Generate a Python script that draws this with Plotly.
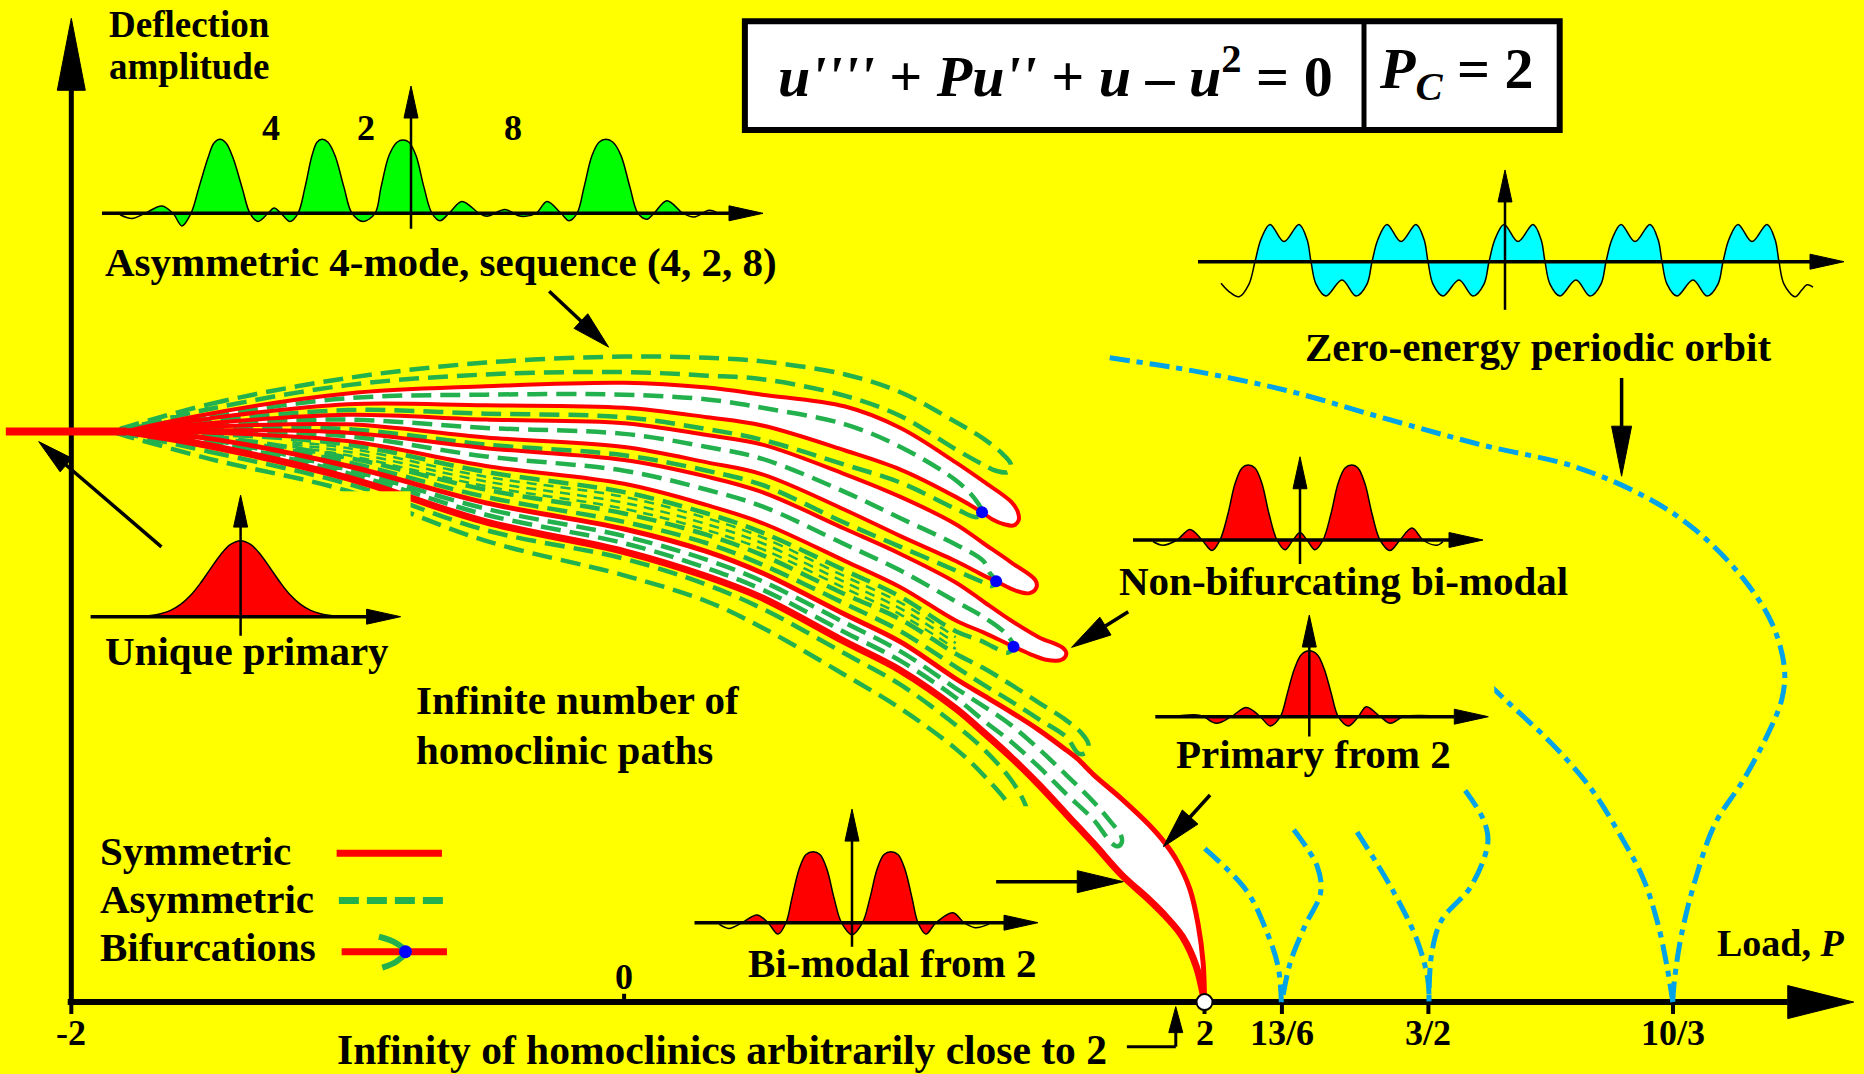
import math
import plotly.graph_objects as go

W, H = 1864, 1074
XR = (-2.258, 4.486)     # load axis (schematic units)
YR = (-0.605, 8.43)      # deflection amplitude axis
SX = W / (XR[1] - XR[0])  # px per load unit
SY = H / (YR[1] - YR[0])  # px per amplitude unit

YELLOW = "#ffff00"
RED = "#ff0000"
GREEN = "#22b14c"
CYAN = "#00a2e8"
BLUE = "#0000ff"
FONT = "Liberation Serif"

# ---------------- symmetric homoclinic branches (P, amplitude) ----------------
stub = [(-2.237, 4.80), (-1.80, 4.80)]

sym_1 = [(-1.8, 4.80), (-1.5, 4.95), (-1.0, 5.12), (-0.5, 5.18), (0.0, 5.21), (0.3, 5.17),
         (0.5, 5.11), (0.8, 5.01), (1.0, 4.83), (1.2, 4.54), (1.3, 4.38), (1.4, 4.21),
         (1.425, 4.12), (1.427, 4.05), (1.41, 4.01), (1.375, 4.02), (1.333, 4.06), (1.295, 4.12),
         (1.2, 4.25), (1.0, 4.48), (0.8, 4.64), (0.5, 4.85), (0.3, 4.92), (0.0, 5.00),
         (-0.5, 5.02), (-1.0, 5.03), (-1.5, 4.91), (-1.8, 4.80)]

sym_2 = [(-1.8, 4.80), (-1.5, 4.87), (-1.0, 4.94), (-0.5, 4.90), (0.0, 4.87), (0.3, 4.77),
         (0.5, 4.69), (0.8, 4.44), (1.0, 4.25), (1.2, 4.02), (1.3, 3.86), (1.4, 3.70),
         (1.488, 3.55), (1.492, 3.49), (1.467, 3.44), (1.419, 3.46), (1.346, 3.54),
         (1.3, 3.59), (1.2, 3.71), (1.0, 3.92), (0.8, 4.14), (0.5, 4.44), (0.3, 4.54),
         (0.0, 4.67), (-0.5, 4.75), (-1.0, 4.86), (-1.5, 4.84), (-1.8, 4.80)]

sym_3 = [(-1.8, 4.80), (-1.5, 4.81), (-1.0, 4.79), (-0.5, 4.66), (0.0, 4.56), (0.3, 4.42),
         (0.5, 4.29), (0.8, 3.98), (1.0, 3.77), (1.2, 3.53), (1.3, 3.37), (1.4, 3.21),
         (1.5, 3.07), (1.587, 2.98), (1.6, 2.93), (1.583, 2.88), (1.527, 2.88), (1.467, 2.93),
         (1.409, 2.99), (1.3, 3.11), (1.2, 3.21), (1.0, 3.49), (0.8, 3.71), (0.5, 4.03),
         (0.3, 4.18), (0.0, 4.36), (-0.5, 4.51), (-1.0, 4.72), (-1.5, 4.79), (-1.8, 4.80)]

sym_4_outer = [(-1.8, 4.80), (-1.5, 4.74), (-1.0, 4.51), (-0.5, 4.20), (0.0, 3.98), (0.3, 3.79),
               (0.5, 3.61), (0.8, 3.26), (1.0, 3.03), (1.2, 2.72), (1.3, 2.58), (1.4, 2.44),
               (1.5, 2.29), (1.6, 2.12), (1.639, 2.05), (1.7, 1.91), (1.8, 1.71), (1.9, 1.49),
               (1.953, 1.35), (2.0, 1.19), (2.047, 0.95), (2.077, 0.65), (2.095, 0.33), (2.1, 0.0)]

sym_4_inner = [(-1.8, 4.80), (-1.5, 4.68), (-1.0, 4.41), (-0.5, 4.04), (0.0, 3.79), (0.3, 3.58),
               (0.5, 3.40), (0.8, 3.03), (1.0, 2.79), (1.2, 2.47), (1.3, 2.27), (1.4, 2.06),
               (1.5, 1.83), (1.6, 1.58), (1.7, 1.33), (1.8, 1.07), (1.9, 0.86), (1.96, 0.72),
               (2.02, 0.55), (2.07, 0.30), (2.1, 0.0)]

# ---------------- asymmetric branches (P, amplitude) ----------------
asym_outer = [(-1.85, 4.80), (-1.5, 5.03), (-1.0, 5.25), (-0.5, 5.38), (0.0, 5.43), (0.3, 5.42),
              (0.5, 5.39), (0.8, 5.28), (1.0, 5.13), (1.2, 4.88), (1.3, 4.74), (1.37, 4.61),
              (1.40, 4.52), (1.39, 4.46), (1.345, 4.47), (1.3, 4.52), (1.2, 4.65), (1.0, 4.93),
              (0.8, 5.10), (0.5, 5.24), (0.3, 5.27), (0.0, 5.30), (-0.5, 5.28), (-1.0, 5.19),
              (-1.5, 4.99), (-1.85, 4.80)]

asym_1 = [(-1.85, 4.80), (-1.5, 4.93), (-1.0, 5.08), (-0.5, 5.11), (0.0, 5.11), (0.3, 5.07),
          (0.5, 5.00), (0.8, 4.86), (1.0, 4.67), (1.2, 4.39), (1.27, 4.23), (1.295, 4.12),
          (1.275, 4.08), (1.2, 4.15), (1.0, 4.37), (0.8, 4.52), (0.5, 4.73), (0.3, 4.82),
          (0.0, 4.92), (-0.5, 4.95), (-1.0, 4.98), (-1.5, 4.89), (-1.85, 4.80)]

asym_2 = [(-1.85, 4.80), (-1.5, 4.86), (-1.0, 4.90), (-0.5, 4.83), (0.0, 4.78), (0.3, 4.67),
          (0.5, 4.57), (0.8, 4.29), (1.0, 4.07), (1.2, 3.85), (1.3, 3.71), (1.323, 3.61),
          (1.346, 3.54), (1.33, 3.50), (1.3, 3.53), (1.2, 3.63), (1.0, 3.83), (0.8, 4.03),
          (0.5, 4.35), (0.3, 4.47), (0.0, 4.60), (-0.5, 4.69), (-1.0, 4.82), (-1.5, 4.83),
          (-1.85, 4.80)]

asym_3 = [(-1.85, 4.80), (-1.5, 4.80), (-1.0, 4.76), (-0.5, 4.59), (0.0, 4.47), (0.3, 4.31),
          (0.5, 4.17), (0.8, 3.85), (1.0, 3.63), (1.2, 3.37), (1.3, 3.24), (1.376, 3.11),
          (1.409, 2.99), (1.389, 2.94), (1.333, 2.99), (1.3, 3.03), (1.2, 3.12), (1.0, 3.41),
          (0.8, 3.63), (0.5, 3.95), (0.3, 4.11), (0.0, 4.29), (-0.5, 4.46), (-1.0, 4.69),
          (-1.5, 4.78), (-1.85, 4.80)]

asym_band_1 = [(-1.2, 4.71), (-1.0, 4.66), (-0.5, 4.42), (0.0, 4.25), (0.3, 4.07), (0.5, 3.91),
               (0.8, 3.58), (1.0, 3.36), (1.2, 3.07)]
asym_band_2 = [(-1.2, 4.69), (-1.0, 4.63), (-0.5, 4.38), (0.0, 4.20), (0.3, 4.02), (0.5, 3.86),
               (0.8, 3.53), (1.0, 3.31), (1.2, 3.02)]
asym_band_3 = [(-1.2, 4.67), (-1.0, 4.60), (-0.5, 4.34), (0.0, 4.15), (0.3, 3.97), (0.5, 3.81),
               (0.8, 3.48), (1.0, 3.26), (1.2, 2.97)]

asym_4 = [(-1.85, 4.80), (-1.5, 4.76), (-1.0, 4.58), (-0.5, 4.31), (0.0, 4.11), (0.3, 3.93),
          (0.5, 3.76), (0.8, 3.43), (1.0, 3.22), (1.2, 2.93), (1.3, 2.81), (1.4, 2.67),
          (1.5, 2.52), (1.6, 2.37), (1.656, 2.26), (1.68, 2.17), (1.672, 2.10), (1.645, 2.09),
          (1.6, 2.23), (1.5, 2.38), (1.4, 2.53), (1.3, 2.67), (1.2, 2.82), (1.0, 3.12),
          (0.8, 3.35), (0.5, 3.68), (0.3, 3.86), (0.0, 4.04), (-0.5, 4.25), (-1.0, 4.54),
          (-1.5, 4.75), (-1.85, 4.80)]

asym_5 = [(-1.85, 4.80), (-1.5, 4.73), (-1.0, 4.48), (-0.5, 4.15), (0.0, 3.92), (0.3, 3.72),
          (0.5, 3.54), (0.8, 3.19), (1.0, 2.95), (1.2, 2.64), (1.3, 2.49), (1.4, 2.33),
          (1.5, 2.13), (1.6, 1.91), (1.7, 1.68), (1.763, 1.51), (1.798, 1.40), (1.80, 1.34),
          (1.785, 1.31), (1.763, 1.34), (1.7, 1.53), (1.6, 1.75), (1.5, 1.98), (1.4, 2.19),
          (1.3, 2.37), (1.2, 2.56), (1.0, 2.87), (0.8, 3.11), (0.5, 3.47), (0.3, 3.65),
          (0.0, 3.86), (-0.5, 4.10), (-1.0, 4.45), (-1.5, 4.71), (-1.85, 4.80)]

asym_6 = [(-1.85, 4.80), (-1.5, 4.63), (-1.0, 4.36), (-0.5, 3.97), (0.0, 3.73), (0.3, 3.51),
          (0.5, 3.31), (0.8, 2.93), (1.0, 2.67), (1.2, 2.33), (1.3, 2.13), (1.4, 1.87),
          (1.45, 1.67), (1.467, 1.53), (1.462, 1.44), (1.447, 1.39), (1.43, 1.43), (1.4, 1.63),
          (1.3, 1.91), (1.2, 2.13), (1.0, 2.47), (0.8, 2.75), (0.5, 3.15), (0.3, 3.37),
          (0.0, 3.59), (-0.5, 3.88), (-1.0, 4.30), (-1.5, 4.57), (-1.85, 4.80)]

bifurcation_points = [(1.295, 4.12), (1.346, 3.54), (1.409, 2.99)]

# ---------------- periodic-orbit branches (P, amplitude) ----------------
periodic_main = [(1.757, 5.42), (2.060, 5.31), (2.406, 5.14), (2.753, 4.91), (3.098, 4.69),
                 (3.445, 4.50), (3.703, 4.24), (3.877, 3.97), (4.050, 3.56), (4.154, 3.18),
                 (4.198, 2.81), (4.189, 2.55), (4.137, 2.25), (4.050, 1.87), (3.947, 1.50),
                 (3.877, 1.04), (3.825, 0.56), (3.800, 0.18), (3.794, 0.0)]
periodic_103_left = [(3.021, 2.91), (3.185, 2.55), (3.358, 2.17), (3.497, 1.80), (3.600, 1.42),
                     (3.687, 1.04), (3.739, 0.67), (3.774, 0.29), (3.794, 0.0)]
periodic_32_left = [(2.652, 1.43), (2.781, 0.94), (2.869, 0.52), (2.908, 0.19), (2.912, 0.0)]
periodic_32_right = [(3.043, 1.78), (3.110, 1.53), (3.125, 1.34), (3.063, 0.97), (2.958, 0.69),
                     (2.922, 0.41), (2.912, 0.0)]
periodic_136_left = [(2.101, 1.29), (2.251, 0.94), (2.322, 0.61), (2.366, 0.30), (2.378, 0.0)]
periodic_136_right = [(2.423, 1.45), (2.508, 1.14), (2.520, 0.92), (2.463, 0.64), (2.410, 0.33),
                      (2.380, 0.0)]

# ---------------- load axis ticks ----------------
tick_pos = [-2.0, 2.1, 2.38, 2.91, 3.795]
tick_text = ["-2", "2", "13/6", "3/2", "10/3"]
zero_pos = 0.0
critical_load_pos = 2.1

# ---------------- deflection profiles for the insets (x, normalised w) ----------------
profile_asym = [(-291, -0.02), (-279, -0.07), (-266, 0.0), (-249, 0.10), (-238, 0.0), (-229, -0.17),
                (-220, 0.0), (-212, 0.35), (-203, 0.75), (-197, 0.95), (-191, 1.0), (-185, 0.95),
                (-178, 0.75), (-169, 0.35), (-161, 0.0), (-153, -0.11), (-143, 0.0), (-137, 0.07),
                (-130, 0.0), (-121, -0.11), (-113, 0.0), (-106, 0.35), (-99, 0.78), (-94, 0.96),
                (-89, 1.0), (-83, 0.96), (-76, 0.78), (-67, 0.35), (-59, 0.0), (-48, -0.11),
                (-36, 0.0), (-30, 0.35), (-22, 0.78), (-14, 0.96), (-8, 0.99), (-2, 0.96),
                (5, 0.78), (13, 0.35), (21, 0.0), (29, -0.10), (38, 0.0), (51, 0.16), (68, 0.0),
                (76, -0.04), (94, 0.05), (110, -0.04), (125, 0.0), (136, 0.16), (150, 0.0),
                (158, -0.10), (166, 0.0), (173, 0.35), (181, 0.78), (188, 0.96), (195, 1.0),
                (202, 0.96), (210, 0.78), (219, 0.35), (227, 0.0), (236, -0.08), (243, 0.0),
                (256, 0.17), (272, 0.0), (283, -0.05), (298, 0.04), (306, 0.01)]

profile_primary = [(-100, 0.006), (-90, 0.016), (-80, 0.039), (-70, 0.083), (-60, 0.161),
                   (-50, 0.281), (-40, 0.444), (-30, 0.633), (-20, 0.816), (-10, 0.951), (0, 1.0),
                   (10, 0.951), (20, 0.816), (30, 0.633), (40, 0.444), (50, 0.281), (60, 0.161),
                   (70, 0.083), (80, 0.039), (90, 0.016), (100, 0.006)]

profile_periodic = [(-284, -0.58), (-276, -0.80), (-266, -0.94), (-256, -0.60),
                    (-250, 0.0), (-244, 0.6), (-235, 1.0), (-221, 0.54), (-206, 1.0), (-198, 0.6),
                    (-194, 0.0), (-189, -0.6), (-179, -0.92), (-163, -0.49), (-149, -0.92), (-138, -0.6),
                    (-133, 0.0), (-127, 0.6), (-118, 1.0), (-104, 0.54), (-89, 1.0), (-81, 0.6),
                    (-77, 0.0), (-72, -0.6), (-62, -0.92), (-46, -0.49), (-32, -0.92), (-21, -0.6),
                    (-16, 0.0), (-10, 0.6), (-1, 1.0), (13, 0.54), (28, 1.0), (36, 0.6),
                    (40, 0.0), (45, -0.6), (55, -0.92), (71, -0.49), (85, -0.92), (96, -0.6),
                    (101, 0.0), (107, 0.6), (116, 1.0), (130, 0.54), (145, 1.0), (153, 0.6),
                    (157, 0.0), (162, -0.6), (172, -0.92), (188, -0.49), (202, -0.92), (213, -0.6),
                    (218, 0.0), (224, 0.6), (233, 1.0), (247, 0.54), (262, 1.0), (270, 0.6),
                    (274, 0.0), (279, -0.6), (290, -0.94), (297, -0.75), (302, -0.62), (308, -0.68)]

profile_nonbif = [(-147, -0.02), (-137, -0.07), (-123, 0.0), (-110, 0.14), (-98, 0.0), (-88, -0.14),
                  (-80, 0.0), (-72, 0.35), (-65, 0.75), (-58, 0.96), (-52, 1.0), (-45, 0.96),
                  (-38, 0.75), (-31, 0.35), (-23, 0.0), (-15, -0.13), (-7, 0.0), (0, 0.10), (7, 0.0),
                  (15, -0.13), (23, 0.0), (31, 0.35), (38, 0.75), (45, 0.96), (52, 1.0), (58, 0.96),
                  (65, 0.75), (72, 0.35), (80, 0.0), (90, -0.14), (100, 0.0), (112, 0.16),
                  (123, 0.0), (137, -0.07), (143, -0.02)]

profile_primary2 = [(-136, 0.0), (-109, 0.02), (-93, -0.10), (-78, 0.0), (-63, 0.14), (-49, 0.0),
                    (-39, -0.14), (-29, 0.0), (-22, 0.35), (-15, 0.72), (-8, 0.94), (0, 1.0),
                    (8, 0.94), (15, 0.72), (22, 0.35), (29, 0.0), (39, -0.14), (49, 0.0),
                    (57, 0.15), (71, 0.0), (81, -0.10), (94, 0.0), (111, 0.02), (134, 0.0)]

profile_bimodal2 = [(-133, -0.02), (-123, -0.08), (-110, 0.0), (-95, 0.11), (-84, 0.0), (-74, -0.16),
                    (-66, 0.0), (-60, 0.35), (-53, 0.75), (-46, 0.96), (-39, 1.0), (-32, 0.96),
                    (-25, 0.75), (-18, 0.35), (-10.5, 0.0), (0, -0.17), (10.5, 0.0), (18, 0.35),
                    (25, 0.75), (32, 0.96), (39, 1.0), (46, 0.96), (53, 0.75), (60, 0.35),
                    (66, 0.0), (74, -0.16), (84, 0.0), (101, 0.14), (112, 0.0), (123, -0.07),
                    (137, -0.02)]


def xs(seq):
    return [p[0] for p in seq]


def ys(seq):
    return [p[1] for p in seq]


fig = go.Figure()
shapes = []
annotations = []


def head(tip, tail, L, Wd, sx, sy):
    """Filled triangular arrowhead (length L, width Wd in px) pointing from tail to tip."""
    dx = (tip[0] - tail[0]) * sx
    dy = (tip[1] - tail[1]) * sy
    n = math.hypot(dx, dy)
    ux, uy = dx / n, dy / n
    bx = tip[0] - ux * L / sx
    by = tip[1] - uy * L / sy
    ox, oy = -uy * Wd / 2.0, ux * Wd / 2.0
    p1 = (bx + ox / sx, by + oy / sy)
    p2 = (bx - ox / sx, by - oy / sy)
    path = "M{:.5f},{:.5f} L{:.5f},{:.5f} L{:.5f},{:.5f} Z".format(
        tip[0], tip[1], p1[0], p1[1], p2[0], p2[1])
    return path, (bx, by)


def add_arrow(tail, tip, L, Wd, lw, xref="x", yref="y", sx=SX, sy=SY, layer="above"):
    path, base = head(tip, tail, L, Wd, sx, sy)
    shapes.append(dict(type="line", xref=xref, yref=yref, x0=tail[0], y0=tail[1],
                       x1=base[0], y1=base[1], line=dict(color="black", width=lw), layer=layer))
    shapes.append(dict(type="path", xref=xref, yref=yref, path=path, fillcolor="black",
                       line=dict(color="black", width=1), layer=layer))


def line_trace(seq, color, width, dash="solid", **kw):
    fig.add_trace(go.Scatter(x=xs(seq), y=ys(seq), mode="lines",
                             line=dict(color=color, width=width, dash=dash, shape="spline"),
                             hoverinfo="skip", **kw))


# white interiors of the symmetric tongues
sym_4_loop = sym_4_outer + sym_4_inner[::-1]
for loop in (sym_1, sym_2, sym_3, sym_4_loop):
    fig.add_trace(go.Scatter(x=xs(loop), y=ys(loop), mode="lines", fill="toself",
                             fillcolor="white", line=dict(width=0, shape="spline"),
                             hoverinfo="skip"))

# asymmetric (dashed) branches
for seq in (asym_outer, asym_1, asym_2, asym_3, asym_4, asym_5, asym_6):
    line_trace(seq, GREEN, 4.5, dash="20px,9px")
for seq in (asym_band_1, asym_band_2, asym_band_3):
    line_trace(seq, GREEN, 2.5, dash="10px,7px")

# symmetric (solid red) branches
line_trace(stub, RED, 8)
for seq in (sym_1, sym_2, sym_3):
    line_trace(seq, RED, 4)
line_trace(sym_4_outer, RED, 5)
line_trace(sym_4_inner, RED, 7)

# bifurcation points
fig.add_trace(go.Scatter(x=xs(bifurcation_points), y=ys(bifurcation_points), mode="markers",
                         marker=dict(color=BLUE, size=12, line=dict(width=0)), hoverinfo="skip"))

# zero-energy periodic orbit branches
for seq in (periodic_main, periodic_103_left, periodic_32_left, periodic_32_right,
            periodic_136_left, periodic_136_right):
    line_trace(seq, CYAN, 5, dash="20px,7px,6px,7px")

# key
line_trace([(-1.040, 1.252), (-0.659, 1.252)], RED, 7)
line_trace([(-1.032, 0.854), (-0.654, 0.854)], GREEN, 7, dash="20px,8px")
line_trace([(-1.022, 0.424), (-0.641, 0.424)], RED, 7)
line_trace([(-0.887, 0.55), (-0.824, 0.495), (-0.791, 0.424), (-0.824, 0.34), (-0.875, 0.29)], GREEN, 6)
fig.add_trace(go.Scatter(x=[-0.791], y=[0.424], mode="markers",
                         marker=dict(color=BLUE, size=13), hoverinfo="skip"))

# critical load marker
fig.add_trace(go.Scatter(x=[critical_load_pos], y=[0.0], mode="markers",
                         marker=dict(color="white", size=16, line=dict(color="black", width=2)),
                         hoverinfo="skip"))

# ---------------- main axes ----------------
add_arrow((-2.013, 0.0), (4.449, 0.0), 66, 33, 6, layer="below")
add_arrow((-2.0, -0.02), (-2.0, 8.276), 72, 28, 5, layer="below")
for p in tick_pos:
    shapes.append(dict(type="line", xref="x", yref="y", x0=p, x1=p, y0=0.0, y1=-0.1,
                       line=dict(color="black", width=4), layer="below"))
shapes.append(dict(type="line", xref="x", yref="y", x0=zero_pos, x1=zero_pos, y0=0.0, y1=0.07,
                   line=dict(color="black", width=4), layer="below"))
for p, t in zip(tick_pos, tick_text):
    annotations.append(dict(x=p, y=-0.26, xref="x", yref="y", text="<b>%s</b>" % t,
                            showarrow=False, font=dict(size=36)))
annotations.append(dict(x=zero_pos, y=0.21, xref="x", yref="y", text="<b>0</b>",
                        showarrow=False, font=dict(size=36)))

# pointer arrows
add_arrow((-0.271, 5.98), (-0.056, 5.51), 38, 20, 3.5)
add_arrow((-1.674, 3.83), (-2.118, 4.715), 36, 18, 3.5)
add_arrow((1.824, 3.284), (1.619, 2.984), 40, 21, 3.5)
add_arrow((2.120, 1.742), (1.951, 1.307), 40, 21, 3.5)
add_arrow((1.346, 1.013), (1.806, 1.013), 46, 22, 3.5)
add_arrow((3.609, 5.25), (3.609, 4.424), 50, 20, 3.5)
shapes.append(dict(type="line", xref="x", yref="y", x0=1.819, x1=1.996, y0=-0.375, y1=-0.375,
                   line=dict(color="black", width=3)))
add_arrow((1.996, -0.375), (1.996, -0.038), 26, 14, 3)

# governing equation box
shapes.append(dict(type="rect", xref="x", yref="y", x0=0.437, x1=3.385, y0=7.336, y1=8.252,
                   fillcolor="white", line=dict(color="black", width=6)))
shapes.append(dict(type="line", xref="x", yref="y", x0=2.677, x1=2.677, y0=7.336, y1=8.252,
                   line=dict(color="black", width=5)))
annotations.append(dict(x=1.562, y=7.82, xref="x", yref="y", showarrow=False,
                        text="<b><i>u''''</i> + <i>Pu''</i> + <i>u</i> \u2013 <i>u</i><sup>2</sup> = 0</b>",
                        font=dict(size=58)))
annotations.append(dict(x=3.011, y=7.82, xref="x", yref="y", showarrow=False,
                        text="<b><i>P</i><sub><i>C</i></sub> = 2</b>", font=dict(size=58)))

# ---------------- inset deflection profiles ----------------
insets = [
    # axis number, origin px (cx, cy), px per unit w, x range, w range, baseline, vertical, fill, profile
    (2, 411.0, 213.3, 74.0, (-320, 365), (-0.3, 1.8), (-309, 352), (-0.21, 1.72), "#00ff00", profile_asym),
    (3, 240.6, 616.7, 76.0, (-160, 170), (-0.3, 1.65), (-150, 160), (-0.25, 1.60), RED, profile_primary),
    (4, 1505.0, 261.7, 37.3, (-320, 350), (-1.35, 2.5), (-307, 339), (-1.29, 2.46), "#00ffff", profile_periodic),
    (5, 1300.0, 540.0, 75.0, (-175, 190), (-0.36, 1.15), (-167, 183), (-0.32, 1.11), RED, profile_nonbif),
    (6, 1309.3, 716.7, 66.0, (-160, 185), (-0.35, 1.58), (-154, 179), (-0.30, 1.54), RED, profile_primary2),
    (7, 852.0, 922.7, 71.0, (-162, 192), (-0.38, 1.64), (-157.5, 186), (-0.34, 1.60), RED, profile_bimodal2),
]

axis_layout = {}
for n, cx, cy, hpx, xr, yr, base, vert, fillc, prof in insets:
    xd = [(cx + xr[0]) / W, (cx + xr[1]) / W]
    yd = [1 - (cy - yr[0] * hpx) / H, 1 - (cy - yr[1] * hpx) / H]
    axis_layout["xaxis%d" % n] = dict(domain=xd, range=list(xr), visible=False,
                                      anchor="y%d" % n, fixedrange=True)
    axis_layout["yaxis%d" % n] = dict(domain=yd, range=list(yr), visible=False,
                                      anchor="x%d" % n, fixedrange=True)
    # shade only between the first and last crossings of the baseline
    zeros = [i for i, p in enumerate(prof) if p[1] == 0.0]
    core = prof[zeros[0]:zeros[-1] + 1] if len(zeros) >= 2 else prof
    fig.add_trace(go.Scatter(x=xs(core), y=ys(core), mode="lines", fill="tozeroy",
                             fillcolor=fillc, line=dict(width=0, shape="spline"),
                             xaxis="x%d" % n, yaxis="y%d" % n, hoverinfo="skip"))
    fig.add_trace(go.Scatter(x=xs(prof), y=ys(prof), mode="lines",
                             line=dict(color="black", width=1.5, shape="spline"),
                             xaxis="x%d" % n, yaxis="y%d" % n, hoverinfo="skip"))
    add_arrow((base[0], 0.0), (base[1], 0.0), 34, 15, 3.5,
              xref="x%d" % n, yref="y%d" % n, sx=1.0, sy=hpx)
    add_arrow((0.0, vert[0]), (0.0, vert[1]), 32, 14, 2.5,
              xref="x%d" % n, yref="y%d" % n, sx=1.0, sy=hpx)

# ---------------- labels ----------------
labels = [
    ("Deflection", -1.871, 8.22, "left", 37),
    ("amplitude", -1.871, 7.87, "left", 37),
    ("4", -1.276, 7.35, "center", 36),
    ("2", -0.933, 7.35, "center", 36),
    ("8", -0.403, 7.35, "center", 36),
    ("Asymmetric 4-mode, sequence (4, 2, 8)", -0.661, 6.23, "center", 41),
    ("Zero-energy periodic orbit", 3.308, 5.51, "center", 41),
    ("Unique primary", -1.363, 2.95, "center", 41),
    ("Non-bifurcating bi-modal", 2.602, 3.54, "center", 41),
    ("Infinite number of", -0.761, 2.54, "left", 41),
    ("homoclinic paths", -0.761, 2.12, "left", 41),
    ("Primary from 2", 2.495, 2.09, "center", 41),
    ("Bi-modal from 2", 0.972, 0.33, "center", 41),
    ("Symmetric", -1.903, 1.27, "left", 41),
    ("Asymmetric", -1.903, 0.865, "left", 41),
    ("Bifurcations", -1.903, 0.467, "left", 41),
    ("Load, <i>P</i>", 4.422, 0.495, "right", 38),
    ("Infinity of homoclinics arbitrarily close to 2", 0.355, -0.40, "center", 41.5),
]
for text, x, y, anchor, size in labels:
    annotations.append(dict(x=x, y=y, xref="x", yref="y", text="<b>%s</b>" % text,
                            showarrow=False, xanchor=anchor, yanchor="middle",
                            font=dict(size=size)))

fig.update_layout(
    width=W, height=H,
    margin=dict(l=0, r=0, t=0, b=0, pad=0),
    paper_bgcolor=YELLOW, plot_bgcolor=YELLOW,
    showlegend=False, hovermode=False,
    font=dict(family=FONT, color="black"),
    xaxis=dict(domain=[0, 1], range=list(XR), visible=False, fixedrange=True),
    yaxis=dict(domain=[0, 1], range=list(YR), visible=False, fixedrange=True),
    shapes=shapes, annotations=annotations,
    **axis_layout,
)

fig.write_html("out.html", config={"displayModeBar": False})
